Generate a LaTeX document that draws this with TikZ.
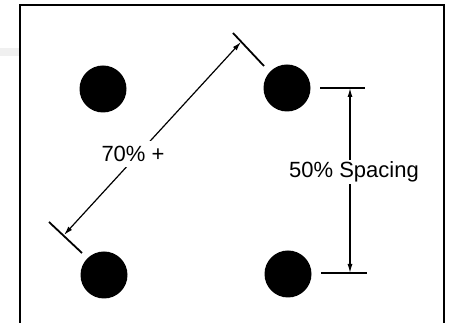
\documentclass[tikz,border=0pt]{standalone}
\usepackage{fontspec}
\setmainfont{Liberation Sans}
\usetikzlibrary{arrows.meta}

\tikzset{
  dot/.style={circle,fill=black,inner sep=0pt,minimum size=47pt},
  dimline/.style={line width=1.2pt,{Latex[length=9pt,width=5pt]}-{Latex[length=9pt,width=5pt]}},
  tick/.style={line width=1.8pt},
  dimlabel/.style={fill=white,inner sep=2pt,font=\fontsize{22}{24}\selectfont}
}

\begin{document}
\begin{tikzpicture}[x=1pt,y=-1pt]
\useasboundingbox (0,0) rectangle (451,323);
\clip (0,0) rectangle (451,323);
\fill[gray!12] (0,48) rectangle (20,56);
\draw[line width=1.5pt] (20,5) rectangle (444,340);
% the four dots
\node[dot] (tl) at (103,89) {};
\node[dot] (tr) at (287,88) {};
\node[dot] (bl) at (104,275) {};
\node[dot] (br) at (288,274) {};
% diagonal dimension
\draw[tick] (233,33) -- (264,66);
\draw[tick] (49,222) -- (82,253);
\coordinate (d1) at (64,235);
\coordinate (d2) at (241,42);
\draw[dimline] (d1) -- (d2);
\node[dimlabel,inner sep=5pt] (diag) at (133,154) {70\% +};
% vertical dimension
\draw[tick] (320,88) -- (365,88);
\draw[tick] (321,273) -- (367,273);
\coordinate (v1) at (350,88);
\coordinate (v2) at (350,273);
\draw[dimline] (v1) -- (v2);
\node[dimlabel] (vert) at (354,172) {50\% Spacing};
\end{tikzpicture}
\end{document}
